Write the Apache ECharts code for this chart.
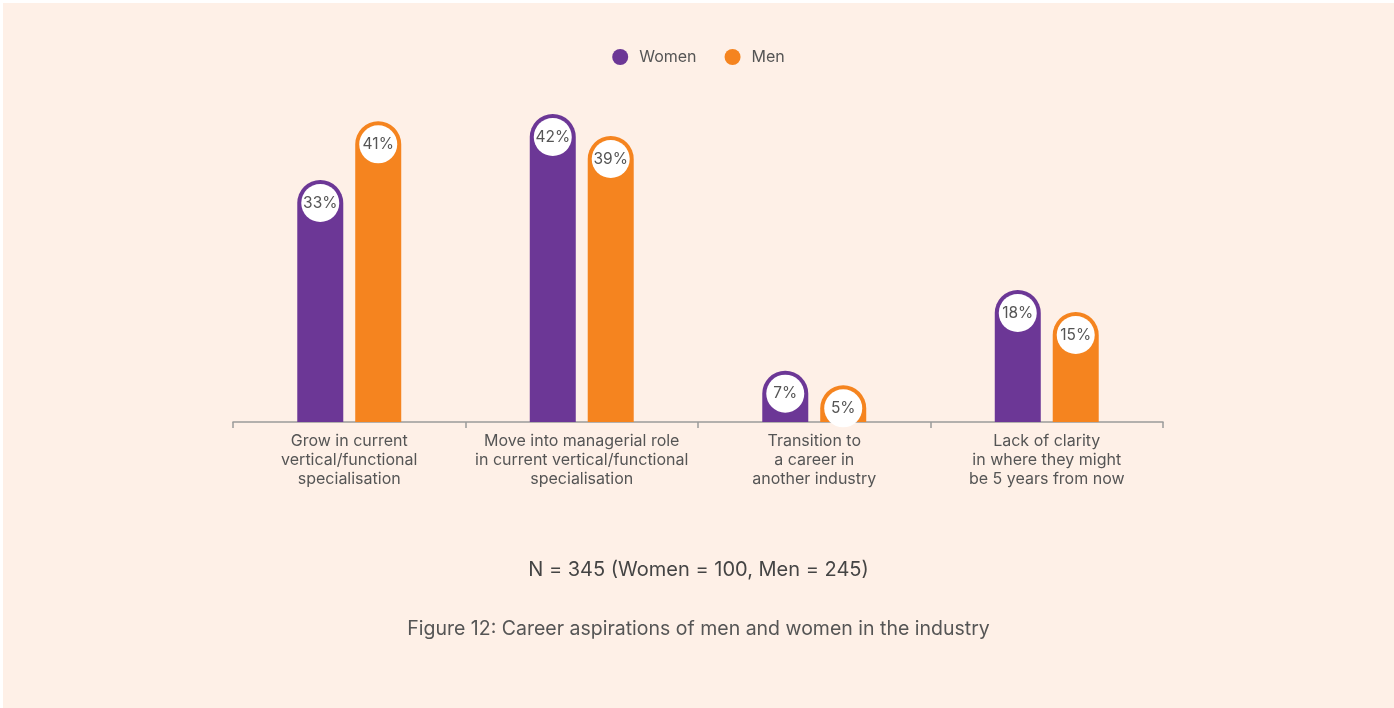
<!DOCTYPE html>
<html>
<head>
<meta charset="utf-8">
<style>
  html, body { margin: 0; padding: 0; background: #ffffff; }
  #chart { position: absolute; left: 3px; top: 3px; width: 1391px; height: 705px; background: #fef0e7; }
</style>
<script src="https://cdn.jsdelivr.net/npm/echarts@6/dist/echarts.min.js"></script>
</head>
<body>
<div id="chart"></div>
<script>
const categories = [
  'Grow in current\nvertical/functional\nspecialisation',
  'Move into managerial role\nin current vertical/functional\nspecialisation',
  'Transition to\na career in\nanother industry',
  'Lack of clarity\nin where they might\nbe 5 years from now'
]
const women = [33, 42, 7, 18]
const men = [41, 39, 5, 15]
const seriesNames = ['Women', 'Men']
const noteText = 'N = 345 (Women = 100, Men = 245)'
const captionText = 'Figure 12: Career aspirations of men and women in the industry'

const FONT = 'Inter, "Noto Sans", sans-serif'
const PURPLE = '#6c3796'
const ORANGE = '#f5841f'

const chart = echarts.init(document.getElementById('chart'))

// white circle with the value, sitting in the rounded top of the bar
const bubble = {
  show: true,
  position: 'insideTop',
  distance: 4,
  formatter: '{c}%',
  width: 38,
  height: 38,
  lineHeight: 38,
  align: 'center',
  backgroundColor: '#ffffff',
  borderRadius: 19,
  color: '#555555',
  fontSize: 15.5,
  fontFamily: FONT
}

const option = {
  textStyle: { fontFamily: FONT },
  title: [
    {
      text: noteText,
      left: 'center',
      top: 552,
      textStyle: { fontSize: 20, fontWeight: 'normal', color: '#444444', fontFamily: FONT }
    },
    {
      text: captionText,
      left: 'center',
      top: 611,
      textStyle: { fontSize: 19.5, fontWeight: 'normal', color: '#555555', fontFamily: FONT }
    }
  ],
  legend: {
    data: seriesNames,
    top: 41,
    left: 'center',
    icon: 'circle',
    itemWidth: 16,
    itemHeight: 16,
    itemGap: 28,
    textStyle: { fontSize: 16, color: '#555555', fontFamily: FONT, padding: [0, 0, 0, 6] }
  },
  grid: {
    left: 230,
    right: 231,
    top: 89,
    bottom: 286
  },
  xAxis: {
    type: 'category',
    data: categories,
    axisLine: { lineStyle: { color: '#9a9a9a', width: 1.5 } },
    axisTick: { show: true, length: 6, lineStyle: { color: '#9a9a9a', width: 1.5 } },
    axisLabel: {
      color: '#555555',
      fontSize: 16,
      lineHeight: 19,
      margin: 10,
      interval: 0,
      fontFamily: FONT
    }
  },
  yAxis: {
    type: 'value',
    min: 0,
    max: 45,
    show: false,
    splitLine: { show: false }
  },
  series: [
    {
      name: seriesNames[0],
      type: 'bar',
      data: women,
      barWidth: 46,
      barGap: '26%',
      itemStyle: { color: PURPLE, borderRadius: [23, 23, 0, 0] },
      label: bubble
    },
    {
      name: seriesNames[1],
      type: 'bar',
      data: men,
      barWidth: 46,
      itemStyle: { color: ORANGE, borderRadius: [23, 23, 0, 0] },
      label: bubble
    }
  ]
}

chart.setOption(option)
window.addEventListener('resize', () => chart.resize())
</script>
</body>
</html>
